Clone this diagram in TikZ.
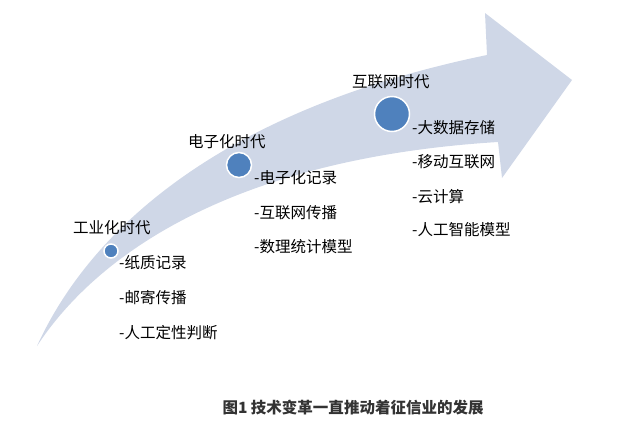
\documentclass[tikz,border=0pt]{standalone}
\usepackage{fontspec}
\setmainfont{Noto Sans CJK SC}
\definecolor{bandblue}{RGB}{207,215,231}
\definecolor{dotblue}{RGB}{79,129,189}
\definecolor{capgray}{RGB}{51,51,51}

\begin{document}
\begin{tikzpicture}[x=1pt, y=-1pt, inner sep=0pt,
  label/.style={right, font=\fontsize{15.5}{18}\selectfont},
  dot/.style={fill=dotblue, draw=white, line width=1.5pt}]
\useasboundingbox (0,0) rectangle (617,434);
\fill[bandblue] (37,346) .. controls (90,230) and (220,110) .. (487,55)
  -- (485,13) -- (572,80) -- (502,178) -- (498,142)
  .. controls (240,158) and (100,250) .. (37,346) -- cycle;
\draw[dot] (111,251) circle [radius=7];
\draw[dot] (239,165) circle [radius=12.5];
\draw[dot] (392,114) circle [radius=17.5];
\node (era1) [label] at (73,228) {工业化时代};
\node (e1a) [label] at (119,263) {-纸质记录};
\node (e1b) [label] at (119,298) {-邮寄传播};
\node (e1c) [label] at (119,333) {-人工定性判断};
\node (era2) [label] at (188,142) {电子化时代};
\node (e2a) [label] at (254,178) {-电子化记录};
\node (e2b) [label] at (254,213) {-互联网传播};
\node (e2c) [label] at (254,247) {-数理统计模型};
\node (era3) [label] at (352,82) {互联网时代};
\node (e3a) [label] at (412,128) {-大数据存储};
\node (e3b) [label] at (412,162) {-移动互联网};
\node (e3c) [label] at (412,197) {-云计算};
\node (e3d) [label] at (412,230) {-人工智能模型};
\node (caption) [capgray, font=\fontsize{15.5}{18}\selectfont\bfseries] at (353,408) {图1 技术变革一直推动着征信业的发展};
\end{tikzpicture}
\end{document}
